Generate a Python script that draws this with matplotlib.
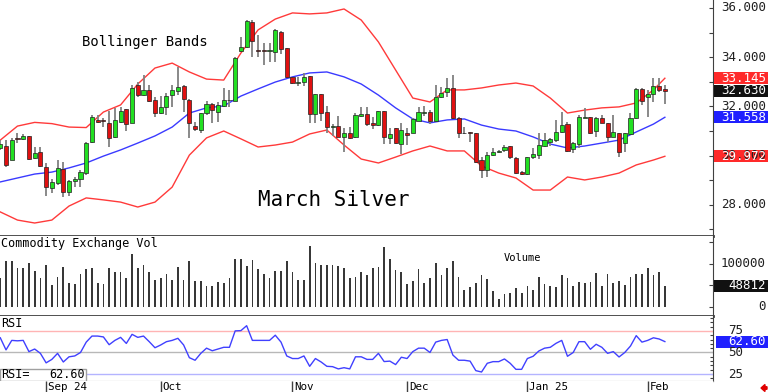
import matplotlib
matplotlib.use("Agg")
import matplotlib.pyplot as plt
import matplotlib.patches as mpatches
from matplotlib.transforms import IdentityTransform
import numpy as np

# March Silver daily candles (Aug 2024 - Feb 2025)
opens = [30.31, 30.39, 29.82, 30.71, 30.67, 30.80, 29.90, 30.15, 29.54, 28.68,
         28.89, 29.46, 28.52, 28.97, 29.05, 29.29, 30.55, 31.45, 31.43, 31.33,
         30.76, 31.37, 31.89, 31.33, 32.87, 32.46, 32.67, 32.26, 31.73, 31.98,
         32.46, 32.63, 32.83, 32.26, 31.20, 31.04, 31.73, 32.10, 31.77, 32.02,
         32.28, 32.22, 34.25, 34.41, 35.43, 34.31, 34.29, 34.27, 34.21, 35.02,
         34.37, 33.20, 32.97, 32.99, 33.23, 31.69, 32.50, 31.77, 31.16, 31.20,
         30.76, 30.92, 30.76, 31.61, 31.69, 31.33, 31.24, 31.81, 30.71, 31.12,
         30.47, 30.92, 30.92, 31.41, 31.73, 31.77, 31.41, 32.38, 32.58, 32.75,
         31.53, 30.90, 30.96, 30.92, 29.82, 29.41, 30.02, 30.14, 30.23, 30.39,
         29.90, 29.33, 29.25, 29.94, 30.02, 30.39, 30.55, 30.63, 30.96, 31.28,
         30.27, 30.47, 31.53, 31.57, 31.00, 31.53, 31.33, 30.76, 30.92, 30.51,
         30.88, 31.53, 32.71, 32.38, 32.50, 32.83, 32.71]
highs = [30.63, 30.63, 30.71, 30.92, 30.88, 30.80, 30.35, 30.35, 29.70, 29.05,
         29.82, 29.74, 29.01, 29.13, 29.41, 30.55, 31.65, 31.65, 31.53, 31.81,
         31.94, 31.98, 31.89, 32.87, 32.99, 33.28, 32.87, 32.38, 32.42, 32.54,
         32.87, 33.60, 32.87, 32.30, 31.37, 31.73, 32.22, 32.14, 32.18, 32.75,
         32.67, 33.99, 34.82, 35.51, 35.51, 34.90, 34.58, 34.58, 35.15, 35.06,
         34.37, 33.20, 33.20, 33.36, 33.23, 32.50, 32.50, 32.02, 31.28, 31.61,
         31.12, 31.16, 31.73, 31.98, 31.98, 31.57, 31.81, 31.83, 31.12, 31.14,
         31.33, 31.12, 31.53, 31.98, 32.02, 31.85, 32.87, 32.79, 33.15, 33.28,
         31.57, 31.16, 30.97, 30.93, 29.94, 30.15, 30.31, 30.23, 30.43, 30.40,
         29.94, 29.37, 29.95, 30.31, 30.92, 30.92, 30.71, 31.45, 31.77, 31.37,
         30.55, 31.65, 31.94, 31.58, 31.57, 31.65, 31.34, 31.65, 30.93, 30.93,
         31.73, 32.75, 32.75, 32.67, 33.15, 33.15, 32.87]
lows = [30.23, 29.54, 29.82, 30.51, 30.63, 29.82, 29.86, 29.54, 28.36, 28.48,
        28.80, 28.32, 28.36, 28.72, 28.72, 29.21, 30.51, 31.33, 31.16, 30.35,
        30.71, 31.33, 31.00, 31.33, 32.38, 32.42, 32.18, 31.57, 31.69, 31.65,
        31.98, 32.46, 31.77, 30.71, 31.00, 30.92, 31.65, 31.33, 31.37, 31.98,
        31.98, 32.20, 34.21, 34.37, 34.01, 34.01, 33.68, 33.80, 33.80, 34.13,
        33.15, 32.91, 32.83, 32.83, 31.33, 31.33, 31.41, 30.92, 30.80, 30.74,
        30.15, 30.69, 30.71, 31.57, 31.20, 31.08, 31.20, 30.47, 30.47, 30.47,
        30.06, 30.43, 30.90, 31.39, 31.61, 31.28, 31.37, 32.36, 32.38, 31.49,
        30.71, 30.88, 30.55, 29.70, 29.09, 29.13, 29.98, 30.11, 30.15, 29.86,
        29.25, 29.21, 29.21, 29.86, 29.86, 30.35, 30.39, 30.55, 30.92, 30.15,
        30.11, 30.31, 31.52, 30.88, 30.76, 31.32, 30.55, 30.75, 29.94, 30.15,
        30.84, 31.49, 32.06, 31.57, 32.18, 32.58, 32.10]
closes = [30.47, 29.62, 30.63, 30.69, 30.80, 29.86, 30.11, 29.57, 28.72, 28.93,
          29.50, 28.52, 28.97, 29.05, 29.33, 30.51, 31.57, 31.37, 31.40, 30.71,
          31.45, 31.81, 31.28, 32.75, 32.46, 32.67, 32.22, 31.73, 31.98, 32.42,
          32.67, 32.79, 32.30, 31.33, 31.08, 31.73, 32.10, 31.85, 32.06, 32.26,
          32.24, 33.97, 34.41, 35.47, 34.66, 34.27, 34.27, 34.31, 35.11, 34.33,
          33.20, 32.95, 33.01, 33.20, 31.69, 32.50, 31.73, 31.16, 31.20, 30.76,
          30.92, 30.71, 31.65, 31.69, 31.28, 31.24, 31.81, 30.76, 30.88, 30.51,
          31.04, 30.84, 31.49, 31.77, 31.77, 31.41, 32.38, 32.54, 32.75, 31.53,
          30.92, 30.93, 30.92, 29.74, 29.41, 30.02, 30.15, 30.16, 30.35, 29.94,
          29.29, 29.25, 29.94, 30.06, 30.43, 30.63, 30.67, 30.96, 31.24, 30.19,
          30.51, 31.57, 31.57, 30.92, 31.53, 31.33, 30.76, 30.96, 30.15, 30.92,
          31.53, 32.71, 32.22, 32.50, 32.83, 32.67, 32.63]

volume = [67000, 106000, 106000, 89000, 89000, 101000, 83000, 66000, 98000, 50000,
          69000, 93000, 54000, 52000, 75000, 87000, 89000, 54000, 52000, 91000,
          81000, 80000, 67000, 122000, 89000, 98000, 81000, 62000, 66000, 75000,
          62000, 93000, 62000, 106000, 60000, 60000, 49000, 47000, 57000, 54000,
          67000, 112000, 112000, 95000, 109000, 87000, 75000, 66000, 83000, 83000,
          106000, 80000, 62000, 62000, 141000, 101000, 97000, 98000, 97000, 95000,
          91000, 66000, 70000, 80000, 74000, 89000, 93000, 140000, 111000, 85000,
          80000, 52000, 60000, 88000, 56000, 67000, 101000, 74000, 91000, 106000,
          68000, 39000, 45000, 54000, 74000, 64000, 37000, 19000, 29000, 31000,
          43000, 33000, 49000, 39000, 68000, 52000, 49000, 45000, 74000, 67000,
          49000, 57000, 54000, 57000, 78000, 47000, 75000, 54000, 60000, 50000,
          70000, 76000, 76000, 91000, 74000, 80000, 48812]

rsi = [67, 53, 64, 63.5, 64, 51, 54, 49, 38, 42,
       49, 39, 45, 46, 50, 62, 69, 69, 68, 59,
       64, 67.5, 60.5, 71, 67.5, 69, 62.5, 55.5, 58.7, 62.5,
       64, 66.4, 58.7, 44, 41, 49, 55, 52, 54, 56,
       56, 75, 75.3, 81, 64, 64, 64, 64, 70, 62,
       46, 43, 43, 46, 34, 43, 39, 34, 33.6, 31,
       32.4, 31, 45, 45, 42, 42, 49, 39.5, 40, 36,
       44.5, 43, 51, 55, 55, 50, 62, 64, 65, 47,
       41, 41, 40, 29, 27.4, 37.5, 39.4, 39.4, 42.5, 37.5,
       30.5, 30.5, 43, 45.6, 51.7, 55, 56, 60.6, 64, 45.6,
       50, 62.5, 62.5, 53.7, 59.5, 56, 49, 51, 44.8, 50,
       57.5, 69.5, 62, 64, 67, 65.6, 62.6]

# Bollinger bands read every third session
band_idx = [0, 3, 6, 9, 12, 15, 18, 21, 24, 27, 30, 33, 36, 39, 42, 45, 48, 51, 54, 57,
            60, 63, 66, 69, 72, 75, 78, 81, 84, 87, 90, 93, 96, 99, 102, 105, 108, 111, 114, 116]
bb_upper = [30.63, 31.20, 31.35, 31.30, 31.16, 31.14, 31.77, 32.06, 32.91, 33.56,
            33.76, 33.40, 33.11, 33.07, 34.17, 35.11, 35.55, 35.80, 35.76, 35.80,
            35.96, 35.51, 34.62, 33.48, 32.34, 32.18, 32.67, 32.67, 32.75, 32.87,
            32.95, 32.83, 32.34, 31.73, 31.85, 31.94, 31.98, 32.14, 32.67, 33.145]
bb_mid = [28.93, 29.09, 29.25, 29.33, 29.50, 29.70, 29.98, 30.23, 30.51, 30.80,
          31.16, 31.73, 31.94, 32.02, 32.42, 32.71, 32.99, 33.20, 33.36, 33.40,
          33.20, 32.91, 32.46, 31.94, 31.49, 31.33, 31.45, 31.49, 31.24, 31.08,
          31.00, 30.76, 30.47, 30.31, 30.39, 30.51, 30.63, 30.96, 31.28, 31.558]
bb_lower = [27.71, 27.38, 27.26, 27.38, 27.95, 28.28, 28.20, 28.11, 27.91, 28.11,
            28.72, 30.02, 30.72, 31.00, 30.68, 30.35, 30.43, 30.55, 30.88, 31.04,
            30.43, 29.86, 29.70, 29.94, 30.19, 30.39, 30.19, 30.19, 29.58, 29.29,
            29.09, 28.60, 28.60, 29.13, 29.01, 29.13, 29.29, 29.62, 29.82, 29.972]

month_idx = [8, 28, 51, 71, 92, 113]
month_labels = ["Sep 24", "Oct", "Nov", "Dec", "Jan 25", "Feb"]

MONO = "DejaVu Sans Mono"
W, H = 768, 392
fig = plt.figure(figsize=(7.68, 3.92), dpi=100)


def px_axes(x0, y0, x1, y1):
    return fig.add_axes([x0 / W, 1 - y1 / H, (x1 - x0) / W, (y1 - y0) / H])


ax = px_axes(0, 0, 713, 236)
axv = px_axes(0, 236, 713, 315.5)
axr = px_axes(0, 315.5, 713, 381)
axd = px_axes(0, 381, 713, 392)

xlim = (-0.05, 124.4)
for a in (ax, axv, axr, axd):
    a.set_xlim(*xlim)
    a.set_xticks([])
    for s in ("top", "left"):
        a.spines[s].set_visible(False)
    a.spines["right"].set_color("#404040")
    a.yaxis.tick_right()
    a.tick_params(axis="y", direction="in", length=3, color="#404040", labelright=False)

# ---- price panel
x = np.arange(len(closes))
o = np.array(opens)
c = np.array(closes)
up = c >= o
ax.plot(band_idx, bb_upper, color="#ff3a3a", lw=1, zorder=1)
ax.plot(band_idx, bb_lower, color="#ff3a3a", lw=1, zorder=1)
ax.plot(band_idx, bb_mid, color="#3a3aff", lw=1, zorder=1)
ax.vlines(x, lows, highs, color="#808080", lw=1.3, zorder=2)
ax.bar(x, np.maximum(np.abs(c - o), 0.03), bottom=np.minimum(o, c), width=0.72,
       color=np.where(up, "#22e022", "#e01010"), edgecolor="#202020", linewidth=0.5, zorder=3)
ax.set_ylim(26.732, 36.325)
ax.set_yticks(range(27, 37))
ax.spines["bottom"].set_color("#404040")
ax.spines["bottom"].set_linewidth(2)

ax.text(82 / 713, 1 - 42 / 236, "Bollinger Bands", transform=ax.transAxes, family=MONO,
        fontsize=10, va="center", ha="left")
ax.text(258 / 713, 1 - 200 / 236, "March Silver", transform=ax.transAxes, family=MONO,
        fontsize=15, va="center", ha="left")

# ---- volume panel
axv.bar(x, volume, width=0.3, color="#383838")
axv.set_ylim(-20465, 164419)
axv.set_yticks([0, 50000, 100000, 150000])
axv.spines["bottom"].set_color("#404040")
axv.spines["bottom"].set_linewidth(2)
axv.text(0.002, 1 - 7 / 79.5, "Commodity Exchange Vol", transform=axv.transAxes,
         family=MONO, fontsize=8.5, va="center", ha="left")
axv.text(522 / 713, 1 - 22 / 79.5, "Volume", transform=axv.transAxes,
         family=MONO, fontsize=7.5, va="center", ha="center")

# ---- RSI panel
axr.axhline(75, color="#ffb4b4", lw=1)
axr.axhline(50, color="#b8b8b8", lw=1)
axr.axhline(25, color="#b4b4ff", lw=1)
axr.plot(x, rsi, color="#4040ff", lw=1)
axr.set_ylim(17.0, 92.8)
axr.set_yticks(range(20, 95, 5))
axr.tick_params(axis="y", length=2)
axr.spines["bottom"].set_color("#909090")
axr.text(0.002, 1 - 8 / 65.5, "RSI", transform=axr.transAxes, family=MONO,
         fontsize=8.5, va="center", ha="left")
axr.add_patch(mpatches.Rectangle((0, 0), 86 / 713, 12 / 65.5, transform=axr.transAxes,
                                 facecolor="white", edgecolor="#a0a0a0", lw=1, zorder=5))
axr.text(0.002, 6 / 65.5, "RSI=", transform=axr.transAxes, family=MONO,
         fontsize=8.5, va="center", ha="left", zorder=6)
axr.text(85 / 713, 6 / 65.5, f"{rsi[-1]:.2f}", transform=axr.transAxes, family=MONO,
         fontsize=8.5, va="center", ha="right", zorder=6)

# ---- date strip
axd.set_ylim(0, 1)
axd.set_yticks([])
axd.spines["right"].set_visible(False)
axd.spines["bottom"].set_visible(False)
axd.vlines(month_idx, 0, 1, color="#404040", lw=1)
for m, lab in zip(month_idx, month_labels):
    axd.text(m + 0.3, 0.5, lab, family=MONO, fontsize=7.8, va="center", ha="left")


# ---- right-hand scale labels
def plain(a, v, s, x_px=766, ha="right"):
    yd = a.transData.transform((0, v))[1]
    fig.text(x_px, yd, s, transform=IdentityTransform(), family=MONO, fontsize=9,
             va="center", ha=ha, color="#202020")


def tag(a, v, s, bg, x0=714, x1=768, h=12):
    yd = a.transData.transform((0, v))[1]
    fig.add_artist(mpatches.Rectangle((x0, yd - h / 2), x1 - x0, h, transform=IdentityTransform(),
                                      facecolor=bg, edgecolor="none"))
    fig.text(x1 - 2, yd, s, transform=IdentityTransform(), family=MONO, fontsize=9,
             va="center", ha="right", color="white")


for v in [36, 34, 32, 30, 28]:
    plain(ax, v, f"{v:.3f}")
tag(ax, bb_lower[-1], f"{bb_lower[-1]:.3f}", "#ff2a2a")
tag(ax, bb_mid[-1], f"{bb_mid[-1]:.3f}", "#2020ff")
tag(ax, bb_upper[-1], f"{bb_upper[-1]:.3f}", "#ff2a2a")
tag(ax, closes[-1], f"{closes[-1]:.3f}", "#111111")

plain(axv, 100000, "100000")
plain(axv, 0, "0")
tag(axv, volume[-1], f"{volume[-1]}", "#111111")

for v in [75, 50, 25]:
    plain(axr, v, f"{v}", x_px=743)
tag(axr, rsi[-1], f"{rsi[-1]:.2f}", "#2020ff", x0=716)

fig.add_artist(mpatches.FancyArrow(767, 4, -6, 0, width=2.5, head_width=7, head_length=4,
                                   length_includes_head=True, transform=IdentityTransform(),
                                   color="#e00000"))

fig.savefig("out.png", dpi=100)
